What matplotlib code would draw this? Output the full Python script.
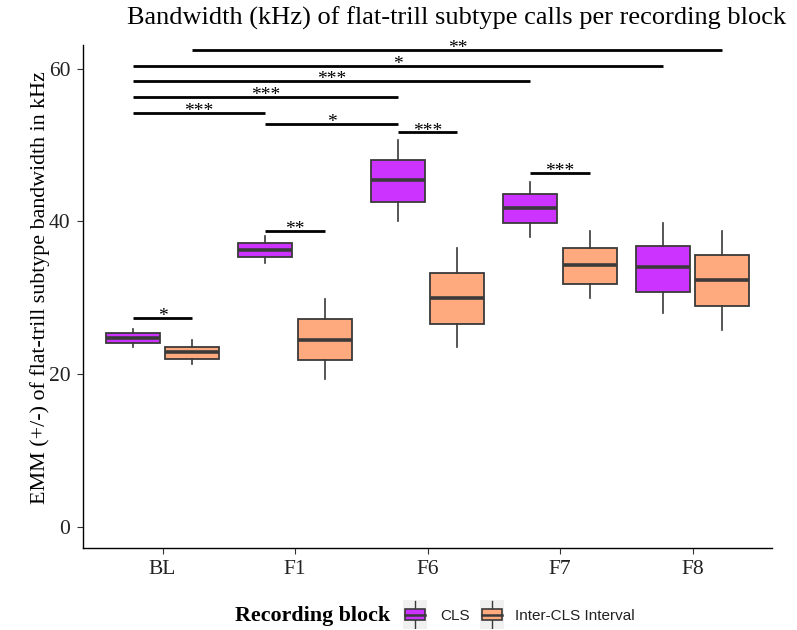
import numpy as np
import matplotlib
matplotlib.use("Agg")
import matplotlib.pyplot as plt
from matplotlib.patches import Rectangle

# recording blocks and the two call groups
blocks = ["BL", "F1", "F6", "F7", "F8"]
groups = ["CLS", "Inter-CLS Interval"]
colors = ["#CC33FF", "#FFA97F"]

# box statistics per block (kHz)
cls_q1 = [24.1, 35.3, 42.5, 39.8, 30.8]
cls_med = [24.7, 36.2, 45.4, 41.7, 34.0]
cls_q3 = [25.4, 37.2, 48.0, 43.6, 36.8]
cls_lo = [23.6, 34.5, 40.1, 38.0, 28.0]
cls_hi = [25.9, 38.1, 50.6, 45.2, 39.8]

int_q1 = [22.0, 21.9, 26.6, 31.8, 28.9]
int_med = [22.9, 24.5, 30.0, 34.3, 32.3]
int_q3 = [23.6, 27.2, 33.2, 36.5, 35.6]
int_lo = [21.4, 19.4, 23.5, 30.0, 25.8]
int_hi = [24.5, 29.8, 36.5, 38.8, 38.8]

# significance brackets: (block, group) -> (block, group), height, label
br_from = [("BL", 0), ("F1", 0), ("F6", 0), ("F7", 0), ("BL", 0),
           ("F1", 0), ("BL", 0), ("BL", 0), ("BL", 0), ("BL", 1)]
br_to = [("BL", 1), ("F1", 1), ("F6", 1), ("F7", 1), ("F1", 0),
         ("F6", 0), ("F6", 0), ("F7", 0), ("F8", 0), ("F8", 1)]
br_y = [27.4, 38.8, 51.7, 46.4, 54.2, 52.8, 56.3, 58.4, 60.4, 62.5]
br_lab = ["*", "**", "***", "***", "***", "*", "***", "***", "*", "**"]

serif = ["Liberation Serif", "DejaVu Serif"]
sans = ["Liberation Sans", "DejaVu Sans"]
edge = "#3a3a3a"

dodge = 0.225
bw = 0.41

def xpos(block, g):
    return blocks.index(block) + 1 + (dodge if g else -dodge)

fig = plt.figure(figsize=(7.97, 6.30), dpi=100)
ax = fig.add_axes([83 / 797, 82 / 630, 689 / 797, 503 / 630])

sets = [(cls_q1, cls_med, cls_q3, cls_lo, cls_hi),
        (int_q1, int_med, int_q3, int_lo, int_hi)]
for g, (q1, med, q3, lo, hi) in enumerate(sets):
    stats = []
    for i in range(len(blocks)):
        stats.append(dict(q1=q1[i], med=med[i], q3=q3[i],
                          whislo=lo[i], whishi=hi[i], fliers=[]))
    pos = [xpos(b, g) for b in blocks]
    ax.bxp(stats, positions=pos, widths=bw, patch_artist=True,
           showcaps=False, showfliers=False,
           boxprops=dict(facecolor=colors[g], edgecolor=edge, linewidth=1.3),
           whiskerprops=dict(color=edge, linewidth=1.2),
           medianprops=dict(color=edge, linewidth=2.6))

# brackets with stars
for a, b, y, lab in zip(br_from, br_to, br_y, br_lab):
    x1, x2 = xpos(*a), xpos(*b)
    ax.plot([x1, x2], [y, y], color="black", lw=2.0, solid_capstyle="butt",
            clip_on=False)
    ax.text((x1 + x2) / 2, y - 0.45, lab, ha="center", va="baseline",
            fontsize=14, family=serif, clip_on=False)

ax.set_xlim(0.4, 5.6)
ax.set_ylim(-2.75, 63.1)
ax.set_xticks(range(1, len(blocks) + 1))
ax.set_xticklabels(blocks)
ax.set_yticks([0, 20, 40, 60])
for lab in ax.get_xticklabels() + ax.get_yticklabels():
    lab.set_family(serif)
    lab.set_fontsize(15.5)
    lab.set_color("#222222")
ax.tick_params(length=4, width=0.8, color="#333333", pad=5)
for s in ["top", "right"]:
    ax.spines[s].set_visible(False)
for s in ["left", "bottom"]:
    ax.spines[s].set_linewidth(1.0)

fig.text(127 / 797, 1 - 18 / 630,
         "Bandwidth (kHz) of flat-trill subtype calls per recording block",
         ha="left", va="center", fontsize=19, family=serif)
fig.text(40 / 797, 1 - 288 / 630,
         "EMM (+/-) of flat-trill subtype bandwidth in kHz",
         ha="center", va="center", rotation=90, fontsize=15.8, family=serif)

# legend at the bottom
ly = 1 - 616 / 630
fig.text(235 / 797, ly, "Recording block", ha="left", va="center",
         fontsize=15.8, fontweight="bold", family=serif)
key_x = [403, 480]
txt_x = [440, 515]
for g in range(2):
    kax = fig.add_axes([key_x[g] / 797, (630 - 629) / 630, 24 / 797, 29 / 630])
    kax.set_xlim(0, 1)
    kax.set_ylim(0, 1)
    kax.axis("off")
    kax.add_patch(Rectangle((0, 0), 1, 1, facecolor="#F0F0F0", zorder=0))
    kax.add_patch(Rectangle((0.08, 0.32), 0.84, 0.36, facecolor=colors[g],
                            edgecolor=edge, linewidth=1.2, zorder=2))
    kax.plot([0.08, 0.92], [0.5, 0.5], color=edge, lw=1.8, zorder=3)
    kax.plot([0.5, 0.5], [0.68, 0.95], color=edge, lw=1.0, zorder=1)
    kax.plot([0.5, 0.5], [0.05, 0.32], color=edge, lw=1.0, zorder=1)
    fig.text(txt_x[g] / 797, ly, groups[g], ha="left", va="center",
             fontsize=11, family=sans, color="#222222")

fig.savefig("out.png", dpi=100)
